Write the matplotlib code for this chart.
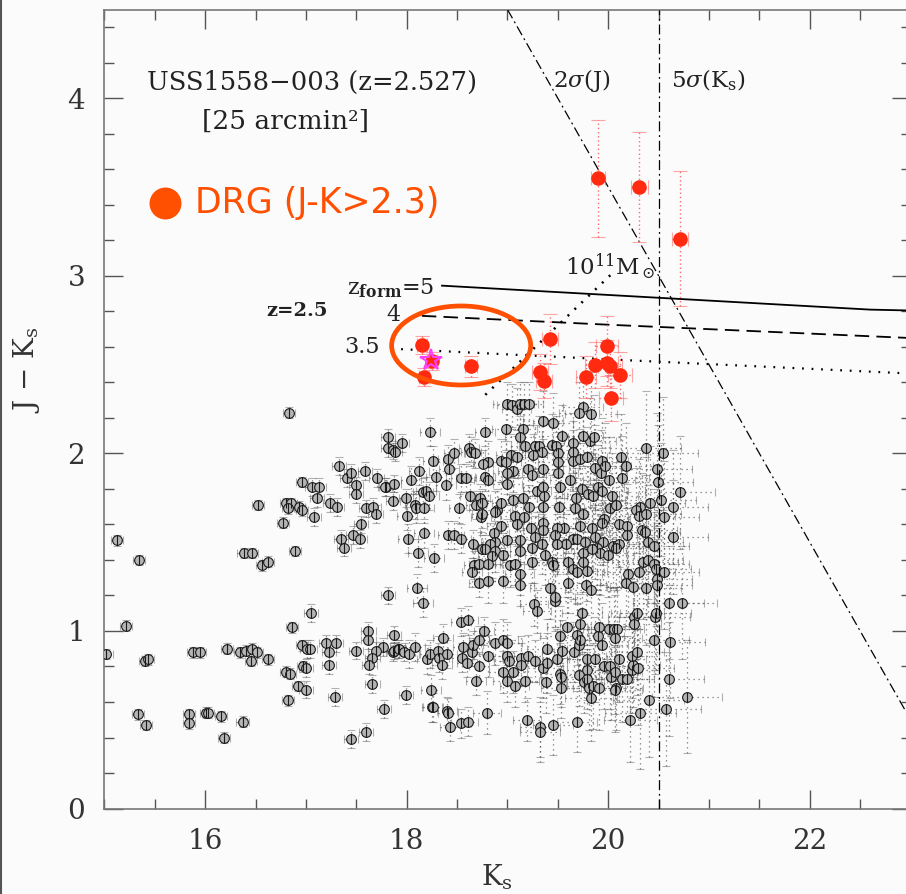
import numpy as np
import matplotlib
matplotlib.use("Agg")
import matplotlib.pyplot as plt
from matplotlib.patches import Ellipse
from matplotlib.lines import Line2D

plt.rcParams["font.family"] = "DejaVu Serif"
plt.rcParams["mathtext.fontset"] = "dejavuserif"

# field galaxies (Ks, J-Ks)
field_ks = [
    15.02, 15.21, 15.12, 15.34, 15.40, 15.43, 15.33, 15.41, 15.84, 15.84, 15.88, 15.95, 16.01, 16.03,
    16.16, 16.19, 16.37, 16.22, 16.35, 16.40, 16.46, 16.51, 16.45, 16.62, 16.38, 16.46, 16.56, 16.62,
    16.52, 16.83, 16.77, 16.80, 16.85, 16.93, 16.96, 16.82, 16.96, 17.06, 17.13, 17.11, 17.08, 16.89,
    17.05, 16.86, 16.96, 17.01, 17.04, 17.20, 17.23, 17.30, 17.23, 16.97, 17.00, 16.80, 16.84, 16.92,
    17.00, 17.29, 16.82, 17.45, 17.60, 17.77, 18.25, 18.40,
    17.33, 17.41, 17.45, 17.50, 17.50, 17.59, 17.70, 17.79, 17.24, 17.31, 17.60, 17.67, 17.69, 17.55,
    17.35, 17.38, 17.47, 17.54, 17.81, 17.81, 17.86, 17.88, 17.95, 17.62, 17.62, 17.87, 17.76, 17.69,
    17.66, 17.63, 17.66, 17.91, 17.86, 17.50, 17.81,
    18.16, 17.87, 17.92, 17.97, 18.02, 18.08, 18.20, 18.23, 18.31, 18.32, 18.40, 18.35, 18.36, 18.54,
    18.61, 18.56, 18.55, 18.60, 18.65, 18.66, 18.77, 18.72, 18.81, 18.72, 18.69, 18.88, 18.96, 19.00,
    19.00, 19.01, 18.96, 19.00, 19.05, 19.07, 19.13, 19.13, 19.20, 19.17, 19.27, 19.39, 19.35, 19.39,
    19.38, 19.49, 19.52, 19.54, 19.52, 19.53, 19.53, 19.47, 19.26, 19.29, 19.59, 19.69, 19.72, 19.74,
    19.66, 19.71, 19.72, 19.79, 19.79, 19.71, 19.76, 19.79, 19.81, 19.85, 19.91, 19.83, 19.69, 19.87,
    19.91, 19.90, 19.94, 19.96, 20.02, 20.01, 20.06, 20.09, 20.07, 20.11, 20.03, 20.08, 20.07, 20.07,
    20.14, 20.19, 20.24, 20.25, 20.30, 20.22, 20.32, 20.24, 20.29, 20.40, 20.26, 20.29, 20.26, 20.45,
    20.46, 20.47, 20.60, 20.61, 20.60, 20.57, 20.73, 20.78,
    17.99, 18.24, 18.26, 18.41, 18.43, 18.54, 18.61, 18.80, 19.19, 19.32, 19.32, 19.45,
    18.23, 17.78, 17.87, 17.86, 17.99, 18.00, 18.04, 18.12, 18.08, 18.09, 18.17, 18.16, 18.19, 18.22,
    18.29, 18.39, 18.26, 18.41, 18.47, 18.42, 18.54, 18.59, 18.63, 18.52, 18.01, 18.17, 18.11, 18.27,
    18.41, 18.47, 18.54, 18.10, 18.62, 18.64, 18.68, 18.78, 18.81, 18.76, 18.78, 18.81, 18.73, 18.69,
    18.75, 18.74, 18.90, 18.88, 18.94, 18.94, 18.87, 18.88, 18.83, 18.66, 18.75, 18.78, 18.88, 18.85,
    18.67, 18.72, 18.81, 18.65, 18.72, 18.81, 18.96, 18.96, 19.00, 19.02, 19.07, 19.12, 19.12, 19.12,
    19.12, 19.24, 19.24, 19.27,
    19.00, 19.04, 19.09, 19.12, 19.16, 19.21, 19.35, 18.99, 19.15, 19.12, 19.17, 19.27, 19.31, 19.34,
    19.25, 19.03, 19.09, 18.94, 18.99, 19.05, 19.00, 19.20, 19.24, 19.35, 19.00, 19.05, 19.15, 19.21,
    19.29, 19.35, 19.36, 19.35, 19.07, 19.16, 19.09, 19.23, 19.35, 19.35, 19.34, 19.37, 18.75,
    19.75, 19.71, 19.83, 19.45, 19.65, 19.54, 19.82, 19.86, 19.75, 19.44, 19.48, 19.65, 19.65, 19.72,
    19.79, 19.50, 19.50, 19.94, 20.13, 20.18, 19.87, 19.93, 19.97, 20.01, 20.14, 19.62, 19.50, 19.52,
    19.74, 19.90, 19.94, 19.80, 19.85, 19.68, 20.04, 20.02, 20.08, 19.51, 19.67, 19.75, 19.96, 19.94,
    20.11, 20.19, 19.84, 19.72, 19.56, 19.49, 19.47, 19.65, 19.69, 19.58, 19.49, 19.77, 19.87, 19.95,
    20.05, 20.11, 20.19, 19.89, 19.92, 20.00, 19.75, 19.84, 19.60, 19.65, 19.75, 19.69, 19.79, 19.44,
    19.45, 19.60, 19.78, 19.83, 19.42, 19.47,
    20.37, 20.54, 20.48, 20.49, 20.52, 20.71, 20.64, 20.41, 20.32, 20.28, 20.31, 20.37, 20.33, 20.36,
    20.55, 20.64, 20.39, 20.45, 20.34, 20.39, 20.45, 20.47, 20.31, 20.55, 20.20, 20.48, 20.48, 20.18,
    20.25, 20.37, 20.08,
]
field_jk = [
    0.87, 1.03, 1.51, 1.40, 0.83, 0.84, 0.53, 0.47, 0.53, 0.48, 0.88, 0.88, 0.54, 0.54,
    0.52, 0.40, 0.49, 0.90, 0.88, 0.89, 0.90, 0.88, 0.83, 0.84, 1.44, 1.44, 1.37, 1.39,
    1.71, 2.23, 1.61, 1.72, 1.72, 1.70, 1.68, 1.69, 1.84, 1.81, 1.81, 1.75, 1.64, 1.45,
    1.10, 1.02, 0.92, 0.90, 0.90, 0.93, 0.88, 0.93, 0.81, 0.80, 0.79, 0.77, 0.76, 0.69,
    0.67, 0.63, 0.61, 0.39, 0.43, 0.56, 0.57, 0.55,
    1.93, 1.86, 1.89, 1.82, 1.77, 1.90, 1.86, 1.81, 1.72, 1.70, 1.69, 1.70, 1.66, 1.60,
    1.52, 1.47, 1.54, 1.52, 2.09, 2.03, 2.02, 2.01, 2.06, 1.00, 0.95, 0.98, 0.91, 0.89,
    0.85, 0.81, 0.70, 0.90, 0.88, 0.89, 1.20,
    1.16, 0.89, 0.90, 0.88, 0.87, 0.91, 0.84, 0.87, 0.89, 0.85, 0.87, 0.81, 0.96, 1.05,
    1.06, 0.91, 0.85, 0.82, 0.88, 0.92, 1.00, 0.95, 0.86, 0.80, 0.72, 0.93, 0.95, 0.93,
    0.86, 0.83, 0.77, 0.72, 0.77, 0.69, 0.85, 0.81, 0.86, 0.72, 0.83, 0.90, 0.79, 0.82,
    0.71, 0.84, 0.97, 0.89, 0.76, 0.74, 0.68, 1.17, 1.15, 1.11, 1.02, 0.98, 1.04, 1.10,
    0.88, 0.92, 0.95, 0.84, 0.78, 0.75, 0.71, 0.73, 0.68, 0.69, 0.68, 0.62, 0.49, 0.84,
    1.02, 0.97, 0.92, 0.80, 0.80, 1.01, 1.01, 1.01, 0.96, 0.84, 0.74, 0.68, 0.77, 0.67,
    0.73, 0.73, 0.78, 0.81, 0.79, 0.50, 0.54, 0.86, 0.88, 0.61, 1.08, 1.10, 1.04, 0.95,
    1.08, 1.10, 1.16, 0.94, 0.73, 0.56, 1.16, 0.63,
    0.64, 0.67, 0.57, 0.54, 0.46, 0.48, 0.49, 0.54, 0.50, 0.46, 0.43, 0.47,
    2.12, 1.81, 1.83, 1.73, 1.75, 1.65, 1.85, 1.90, 1.71, 1.69, 1.69, 1.78, 1.79, 1.76,
    1.87, 1.82, 1.96, 1.97, 2.00, 1.91, 1.86, 1.86, 1.76, 1.69, 1.52, 1.55, 1.44, 1.41,
    1.54, 1.54, 1.52, 1.24, 2.03, 2.01, 2.00, 2.12, 1.95, 1.94, 1.87, 1.85, 1.75, 1.71,
    1.72, 1.64, 1.68, 1.67, 1.72, 1.59, 1.55, 1.50, 1.49, 1.49, 1.46, 1.46, 1.45, 1.42,
    1.37, 1.38, 1.38, 1.33, 1.27, 1.28, 1.43, 1.28, 1.51, 1.37, 1.38, 1.45, 1.51, 1.32,
    1.26, 1.39, 1.47, 1.53,
    2.28, 2.27, 2.25, 2.28, 2.28, 2.28, 2.18, 2.14, 2.14, 2.09, 2.04, 2.04, 2.04, 2.01,
    1.99, 1.99, 1.98, 1.96, 1.95, 1.90, 1.89, 1.91, 1.88, 1.91, 1.83, 1.74, 1.75, 1.70,
    1.79, 1.81, 1.76, 1.70, 1.65, 1.64, 1.60, 1.58, 1.61, 1.57, 1.49, 1.43, 1.66,
    2.26, 2.23, 2.22, 2.17, 2.06, 2.10, 2.07, 2.09, 2.10, 2.05, 2.04, 2.01, 1.96, 1.97,
    1.98, 2.00, 1.95, 1.96, 1.98, 1.93, 1.92, 1.89, 1.93, 1.85, 1.86, 1.85, 1.89, 1.81,
    1.80, 1.81, 1.79, 1.77, 1.76, 1.75, 1.76, 1.69, 1.71, 1.70, 1.69, 1.66, 1.63, 1.61,
    1.60, 1.59, 1.58, 1.59, 1.58, 1.58, 1.54, 1.52, 1.52, 1.49, 1.49, 1.50, 1.53, 1.50,
    1.48, 1.49, 1.54, 1.47, 1.44, 1.43, 1.44, 1.46, 1.39, 1.35, 1.39, 1.33, 1.34, 1.39,
    1.37, 1.27, 1.26, 1.23, 1.24, 1.19,
    2.03, 2.00, 1.91, 1.84, 1.74, 1.78, 1.70, 1.72, 1.70, 1.68, 1.65, 1.66, 1.57, 1.56,
    1.64, 1.53, 1.50, 1.48, 1.39, 1.40, 1.38, 1.35, 1.33, 1.33, 1.32, 1.29, 1.26, 1.27,
    1.25, 1.24, 1.47,
]

# typical photometric errors per Ks bin
err_edges = [17.0, 18.0, 18.8, 19.3, 19.8, 20.3]
err_ks_bin = [0.06, 0.07, 0.10, 0.14, 0.20, 0.26, 0.35]
err_jk_bin = [0.03, 0.05, 0.08, 0.12, 0.17, 0.24, 0.32]

# distant red galaxies (J-Ks > 2.3)
drg_ks = [18.15, 18.25, 18.17, 18.64, 19.42, 19.32, 19.36, 19.78, 19.87, 19.99, 19.99, 20.02,
          20.12, 20.03, 19.90, 20.31, 20.71]
drg_jk = [2.61, 2.52, 2.43, 2.49, 2.645, 2.46, 2.41, 2.43, 2.50, 2.605, 2.51, 2.49,
          2.44, 2.31, 3.55, 3.50, 3.21]
drg_ks_err = [0.05, 0.05, 0.05, 0.06, 0.08, 0.08, 0.08, 0.10, 0.10, 0.11, 0.11, 0.12,
              0.12, 0.12, 0.07, 0.08, 0.08]
drg_jk_err = [0.05, 0.05, 0.05, 0.06, 0.14, 0.10, 0.10, 0.12, 0.13, 0.17, 0.13, 0.12,
              0.13, 0.13, 0.33, 0.31, 0.38]

# radio galaxy
rg_ks, rg_jk = 18.24, 2.527

# passive evolution tracks at z=2.5 for different formation redshifts
track5_ks, track5_jk = [18.35, 22.6, 23.0], [2.945, 2.81, 2.805]
track4_ks, track4_jk = [18.15, 20.0, 23.0], [2.775, 2.725, 2.65]
track35_ks, track35_jk = [17.85, 20.0, 23.0], [2.59, 2.53, 2.45]
mass_ks, mass_jk = [18.78, 20.05], [2.33, 3.02]

j_lim = 23.5    # 2 sigma J limit
ks_lim = 20.5   # 5 sigma Ks limit

ORANGE = "#ff4f00"
RED = "#ff2a10"
INK = "#222"

fig = plt.figure(figsize=(9.06, 8.94), dpi=100, facecolor="#fbfbfb")
ax = fig.add_axes([0.1153, 0.0956, 0.8897, 0.8937])
ax.set_facecolor("#fbfbfb")

ks = np.array(field_ks)
jk = np.array(field_jk)
idx = np.digitize(ks, err_edges)
xerr = np.array(err_ks_bin)[idx]
yerr = np.array(err_jk_bin)[idx]

eb = ax.errorbar(ks, jk, xerr=xerr, yerr=yerr, fmt="none", ecolor="#555",
                 elinewidth=0.9, capsize=3, capthick=0.8, alpha=0.8, zorder=2)
for lc in eb[2]:
    lc.set_linestyle((0, (1, 3)))
for cap in eb[1]:
    cap.set_alpha(0.45)
ax.plot(ks, jk, "o", ms=7, mfc="#b4b4b4", mec="#1a1a1a", mew=0.8, zorder=3)
ax.plot(ks, jk, "|", ms=7, color="#1a1a1a", mew=0.8, zorder=3)

# colour limits and model tracks
dashdot = (0, (8, 3, 1.5, 3))
kk = np.array([j_lim - 4.5, 23.0])
ax.plot(kk, j_lim - kk, color="k", lw=0.9, ls=dashdot, zorder=4)
ax.axvline(ks_lim, color="k", lw=0.9, ls=dashdot, zorder=4)
ax.plot(track5_ks, track5_jk, color="k", lw=1.3, zorder=4)
ax.plot(track4_ks, track4_jk, color="k", lw=1.3, ls=(0, (8, 4)), zorder=4)
ax.plot(track35_ks, track35_jk, color="k", lw=1.6, ls=(0, (0.8, 3.5)), zorder=4)
ax.plot(mass_ks, mass_jk, color="k", lw=1.8, ls=(0, (0.8, 3)), zorder=4)

ebr = ax.errorbar(drg_ks, drg_jk, xerr=drg_ks_err, yerr=drg_jk_err, fmt="none",
                  ecolor="#ff6a6a", elinewidth=1.0, capsize=5, capthick=0.8, zorder=5)
for lc in ebr[2]:
    lc.set_linestyle((0, (1, 2)))
for cap in ebr[1]:
    cap.set_alpha(0.6)
ax.plot(drg_ks, drg_jk, "o", ms=10.5, color=RED, mec="none", zorder=6)
ax.plot(rg_ks, rg_jk, "*", ms=16, mfc="none", mec="#ff40ff", mew=1.5, zorder=7)

ax.add_patch(Ellipse((18.54, 2.608), 1.38, 0.445, fill=False, ec=ORANGE, lw=3.4, zorder=8))

# legend-like marker for DRGs
ax.plot(15.6, 3.41, "o", ms=23, color=ORANGE, mec="none")
ax.text(15.9, 3.41, "DRG (J-K>2.3)", color=ORANGE, fontsize=25, family="DejaVu Sans",
        va="center", ha="left")

ax.text(15.42, 4.09, "USS1558\u2212003 (z=2.527)", fontsize=18.5, va="center", color=INK)
ax.text(15.97, 3.87, "[25 arcmin\u00b2]", fontsize=19, va="center", color=INK)
ax.text(19.45, 4.10, r"2$\sigma$(J)", fontsize=16.5, va="center", color=INK)
ax.text(20.62, 4.10, r"5$\sigma$(K$_\mathrm{s}$)", fontsize=16.5, va="center", color=INK)
ax.text(19.57, 3.05, r"10$^{11}$M$_\odot$", fontsize=16.5, va="center", color=INK)
ax.text(17.41, 2.93, r"z$_\mathbf{form}$=5", fontsize=16, va="center", color=INK)
ax.text(16.61, 2.80, "z=2.5", fontsize=14, fontweight="bold", va="center", color=INK)
ax.text(17.80, 2.78, "4", fontsize=16, va="center", color=INK)
ax.text(17.38, 2.60, "3.5", fontsize=16, va="center", color=INK)

ax.set_xlim(15, 23)
ax.set_ylim(0, 4.5)
ax.set_xticks([16, 18, 20, 22])
ax.set_xticks(np.arange(15, 23.01, 0.5), minor=True)
ax.set_yticks([0, 1, 2, 3, 4])
ax.set_yticks(np.arange(0, 4.51, 0.2), minor=True)
ax.tick_params(which="both", direction="in", top=True, right=True, color="#555",
               labelsize=20, labelcolor="#333")
ax.tick_params(which="major", length=14, width=1.0, pad=14)
ax.tick_params(which="minor", length=7, width=1.0)
for sp in ax.spines.values():
    sp.set_color("#777")
    sp.set_linewidth(1.2)

ax.set_xlabel(r"K$_\mathrm{s}$", fontsize=20, color="#333")
ax.set_ylabel(r"J $-$ K$_\mathrm{s}$", fontsize=20, color="#333")
ax.xaxis.set_label_coords(0.487, -0.068)
ax.yaxis.set_label_coords(-0.0775, 0.549)

fig.add_artist(Line2D([0.0015, 0.0015], [0, 1], transform=fig.transFigure, color="#555", lw=1.5))

fig.savefig("out.png", dpi=100, facecolor=fig.get_facecolor())
